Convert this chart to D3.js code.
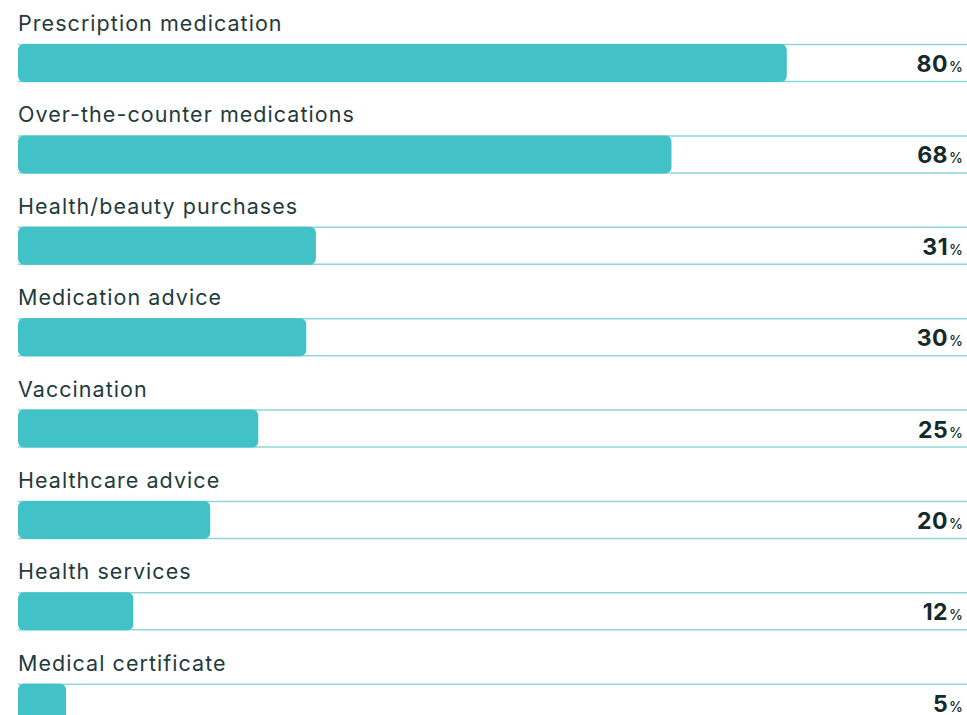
<!DOCTYPE html>
<html>
<head>
<meta charset="utf-8">
<script src="https://cdn.jsdelivr.net/npm/d3@7"></script>
<style>
  body { margin: 0; background: #fff; }
  svg { display: block; font-family: Inter, "Noto Sans", sans-serif; }
</style>
</head>
<body>
<svg id="chart" width="967" height="715"></svg>
<script>
// data
const categories = ["Prescription medication", "Over-the-counter medications",
  "Health/beauty purchases", "Medication advice", "Vaccination",
  "Healthcare advice", "Health services", "Medical certificate"];
const values = [80, 68, 31, 30, 25, 20, 12, 5];

const width = 967, height = 715;
const svg = d3.select("#chart");

// bars run from x=18, full 100% goes past the right edge (clipped like the original)
const x = d3.scaleLinear().domain([0, 100]).range([18, 979]);
const y = d3.scaleBand().domain(categories).range([0, 731]).paddingInner(0).paddingOuter(0);
const barTop = 44, barH = 38;

const row = svg.selectAll("g.row")
  .data(categories)
  .join("g")
  .attr("class", "row")
  .attr("transform", d => `translate(0,${y(d)})`);

// label above the bar
row.append("text")
  .attr("x", 18)
  .attr("y", barTop - 13)
  .attr("fill", "#1f3b3c")
  .style("font-size", "21.5px")
  .style("letter-spacing", "1.05px")
  .text(d => d);

// track lines top and bottom
row.append("line")
  .attr("x1", 18).attr("x2", width)
  .attr("y1", barTop + 0.5).attr("y2", barTop + 0.5)
  .attr("stroke", "#8fd6d8").attr("stroke-width", 1.5);
row.append("line")
  .attr("x1", 18).attr("x2", width)
  .attr("y1", barTop + barH - 0.5).attr("y2", barTop + barH - 0.5)
  .attr("stroke", "#8fd6d8").attr("stroke-width", 1.5);

// the bar
row.append("rect")
  .attr("x", x(0))
  .attr("y", barTop)
  .attr("width", (d, i) => x(values[i]) - x(0))
  .attr("height", barH)
  .attr("rx", 6)
  .attr("fill", "#42c2c6");

// value with small percent sign
const val = row.append("text")
  .attr("x", 963)
  .attr("y", barTop + 28)
  .attr("text-anchor", "end")
  .attr("fill", "#132a2b");
val.append("tspan")
  .style("font-size", "23px")
  .style("font-weight", "700")
  .style("letter-spacing", "0.5px")
  .text((d, i) => values[i]);
val.append("tspan")
  .attr("dx", 1)
  .style("font-size", "14px")
  .style("font-weight", "500")
  .text("%");
</script>
</body>
</html>
